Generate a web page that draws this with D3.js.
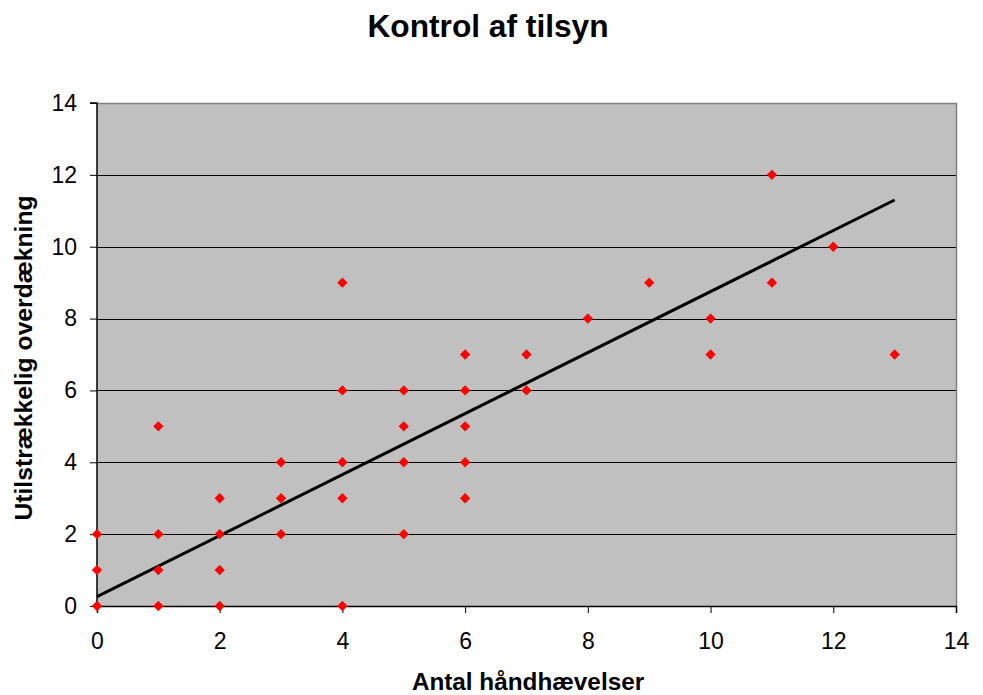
<!DOCTYPE html>
<html><head><meta charset="utf-8">
<script src="https://cdn.jsdelivr.net/npm/d3@7"></script>
<style>body{margin:0;background:#fff}svg{display:block}text{font-family:"Liberation Sans",Arial,sans-serif}</style>
</head><body><svg id="c" width="983" height="695"></svg>
<script>
const title = "Kontrol af tilsyn";
const xTitle = "Antal håndhævelser";
const yTitle = "Utilstrækkelig overdækning";
const xValues = [0,0,0,1,1,1,1,2,2,2,2,3,3,3,4,4,4,4,4,5,5,5,5,6,6,6,6,6,7,7,8,9,10,10,11,11,12,13];
const yValues = [0,1,2,0,1,2,5,0,1,2,3,2,3,4,0,3,4,6,9,2,4,5,6,3,4,5,6,7,6,7,8,9,7,8,9,12,10,7];
const trendX = [0, 13];
const trendY = [0.26, 11.3];
const xTicks = [0,2,4,6,8,10,12,14];
const yTicks = [0,2,4,6,8,10,12,14];

const svg = d3.select("#c");
const L = 97, R = 956, T = 103, B = 606;
const x = d3.scaleLinear().domain([0,14]).range([L,R]);
const y = d3.scaleLinear().domain([0,14]).range([B,T]);

svg.append("rect").attr("x",L).attr("y",T).attr("width",R-L).attr("height",B-T).attr("fill","#c0c0c0");
svg.append("g").selectAll("line").data(yTicks.slice(1,-1)).join("line")
  .attr("x1",L).attr("x2",R).attr("y1",d=>Math.round(y(d))+0.5).attr("y2",d=>Math.round(y(d))+0.5)
  .attr("stroke","#000").attr("stroke-width",1);
svg.append("path").attr("d",`M${L},${T+0.5}H${R+0.5}V${B}`).attr("fill","none").attr("stroke","#808080").attr("stroke-width",1.5);

const yAxis = d3.axisLeft(y).tickValues(yTicks).tickSize(7).tickPadding(13).tickFormat(d3.format("d"));
const gy = svg.append("g").attr("transform",`translate(${L},0)`).call(yAxis);
const xAxis = d3.axisBottom(x).tickValues(xTicks).tickSize(7).tickPadding(20).tickFormat(d3.format("d"));
const gx = svg.append("g").attr("transform",`translate(0,${B})`).call(xAxis);
[gy,gx].forEach(g=>{
  g.attr("font-size",null).attr("font-family",null);
  g.select(".domain").attr("stroke","#000").attr("stroke-width",1.5);
  g.selectAll(".tick line").attr("stroke","#000");
  g.selectAll("text").style("font-size","23px").attr("fill","#000").style("font-family",'"Liberation Sans",Arial,sans-serif');
});
gy.select(".domain").attr("d",`M-7,${T}H0V${B}`);

svg.append("line").attr("x1",x(trendX[0])).attr("y1",y(trendY[0])).attr("x2",x(trendX[1])).attr("y2",y(trendY[1]))
  .attr("stroke","#000").attr("stroke-width",3);

const sym = d3.symbol().type(d3.symbolDiamond2).size(68);
svg.append("g").selectAll("path").data(xValues.map((v,i)=>[v,yValues[i]])).join("path")
  .attr("transform",d=>`translate(${x(d[0])},${y(d[1])})`)
  .attr("d",sym).attr("fill","#ff0000");

svg.append("text").attr("x",488).attr("y",37).attr("text-anchor","middle").style("font-size","31.7px").attr("font-weight","bold").text(title);
svg.append("text").attr("x",528).attr("y",690).attr("text-anchor","middle").style("font-size","24.3px").attr("font-weight","bold").text(xTitle);
svg.append("text").attr("transform","translate(32,358) rotate(-90)").attr("text-anchor","middle").style("font-size","24.7px").attr("font-weight","bold").text(yTitle);
</script></body></html>
